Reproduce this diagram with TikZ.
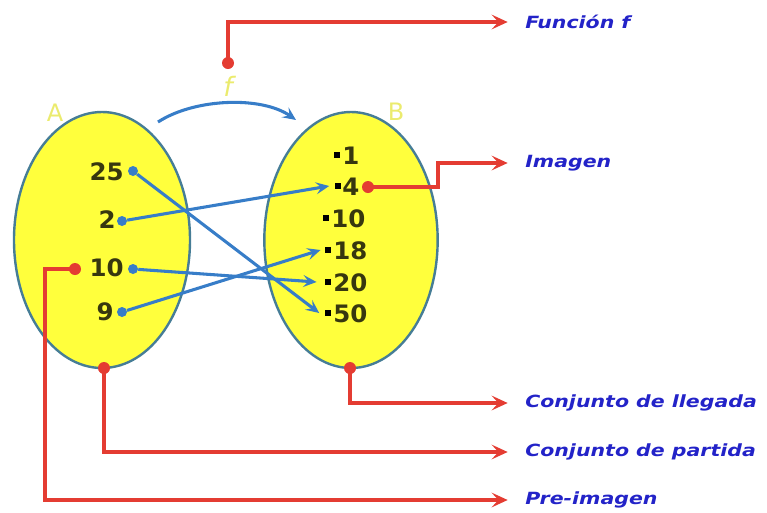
\documentclass[tikz,border=0pt]{standalone}
\usepackage{fontspec}
\setmainfont{DejaVu Sans}
\newfontfamily\lblfont{DejaVu Sans}[FakeStretch=1.22]
\newfontfamily\numfont{DejaVu Sans}[FakeStretch=1.02]
\usetikzlibrary{shapes.geometric,arrows.meta}
\definecolor{setfill}{RGB}{255,255,60}
\definecolor{setedge}{RGB}{70,125,150}
\definecolor{numcol}{RGB}{55,55,15}
\definecolor{bluearr}{RGB}{55,125,200}
\definecolor{redarr}{RGB}{228,60,50}
\definecolor{lblblue}{RGB}{35,35,200}
\definecolor{setname}{RGB}{235,235,110}
\tikzset{
  setell/.style={ellipse, draw=setedge, line width=1.8pt, fill=setfill, inner sep=0pt},
  num/.style={font=\numfont\bfseries\fontsize{18}{18}\selectfont, text=numcol, inner sep=0pt},
  mapline/.style={draw=bluearr, line width=2.3pt, -{Stealth[length=10pt,width=9pt,inset=4pt]}},
  bdot/.style={circle, fill=bluearr, inner sep=0pt, minimum size=7.5pt},
  sq/.style={rectangle, fill=black, inner sep=0pt, minimum width=4.8pt, minimum height=4.2pt},
  callout/.style={draw=redarr, line width=2.6pt, -{Stealth[length=12pt,width=11pt,inset=5pt]}},
  rdot/.style={circle, fill=redarr, inner sep=0pt, minimum size=9pt},
  lbl/.style={font=\lblfont\bfseries\itshape\fontsize{12.6}{13}\selectfont, text=lblblue, anchor=west, inner sep=0pt},
  setlbl/.style={font=\fontsize{18}{18}\selectfont, text=setname, inner sep=0pt}
}
\begin{document}
\begin{tikzpicture}[x=0.75pt,y=-0.75pt]
\useasboundingbox (0,0) rectangle (767,512);
% sets
\node[setell, minimum width=132pt, minimum height=192pt] (A) at (102,240) {};
\node[setell, minimum width=130pt, minimum height=192pt] (B) at (351,240) {};
\node[setlbl] (lA) at (55,113) {A};
\node[setlbl] (lB) at (396,112) {B};
\node[setlbl, font=\itshape\fontsize{20}{20}\selectfont] (lf) at (228,86) {f};
% curved arrow
\coordinate (fs) at (158,122);
\coordinate (fe) at (296,120);
\draw[mapline] (fs) .. controls (195,98) and (262,96) .. (fe);
% domain elements
\node[num, anchor=east] (a25) at (124,172) {25};
\node[num, anchor=east] (a2) at (116,220) {2};
\node[num, anchor=east] (a10) at (124,268) {10};
\node[num, anchor=east] (a9) at (114,312) {9};
\node[bdot] (d25) at (133,171) {};
\node[bdot] (d2) at (122,221) {};
\node[bdot] (d10) at (133,269) {};
\node[bdot] (d9) at (122,312) {};
% codomain elements
\node[sq] (s1) at (337,155) {};
\node[sq] (s4) at (338,186) {};
\node[sq] (s10) at (326,218) {};
\node[sq] (s18) at (328,250) {};
\node[sq] (s20) at (328,282) {};
\node[sq] (s50) at (328,313) {};
\node[num, anchor=west] (b1) at (342,156) {1};
\node[num, anchor=west] (b4) at (342,187) {4};
\node[num, anchor=west] (b10) at (331,219) {10};
\node[num, anchor=west] (b18) at (333,251) {18};
\node[num, anchor=west] (b20) at (333,283) {20};
\node[num, anchor=west] (b50) at (333,314) {50};
% mapping arrows
\draw[mapline] (d25) -- ([xshift=-4pt]s50.west);
\draw[mapline] (d2) -- ([xshift=-4pt]s4.west);
\draw[mapline] (d10) -- ([xshift=-6pt]s20.west);
\draw[mapline] (d9) -- ([xshift=-3pt]s18.west);
% labels
\node[lbl] (tF) at (525,22) {Función f};
\node[lbl] (tI) at (525,163) {Imagen};
\node[lbl] (tL) at (525,403) {Conjunto de llegada};
\node[lbl] (tP) at (525,452) {Conjunto de partida};
\node[lbl] (tPre) at (525,500) {Pre-imagen};
% red callouts
\node[rdot] (rF) at (228,63) {};
\node[rdot] (rI) at (368,187) {};
\node[rdot] (rL) at (350,368) {};
\node[rdot] (rP) at (104,368) {};
\node[rdot] (rPre) at (75,269) {};
\coordinate (kI) at (438,187);
\coordinate (kPre) at (45,269);
\draw[callout] (rF.center) |- ([xshift=-13pt]tF.west);
\draw[callout] (rI.center) -- (kI) |- ([xshift=-13pt]tI.west);
\draw[callout] (rL.center) |- ([xshift=-13pt]tL.west);
\draw[callout] (rP.center) |- ([xshift=-13pt]tP.west);
\draw[callout] (rPre.center) -- (kPre) |- ([xshift=-13pt]tPre.west);
\end{tikzpicture}
\end{document}
